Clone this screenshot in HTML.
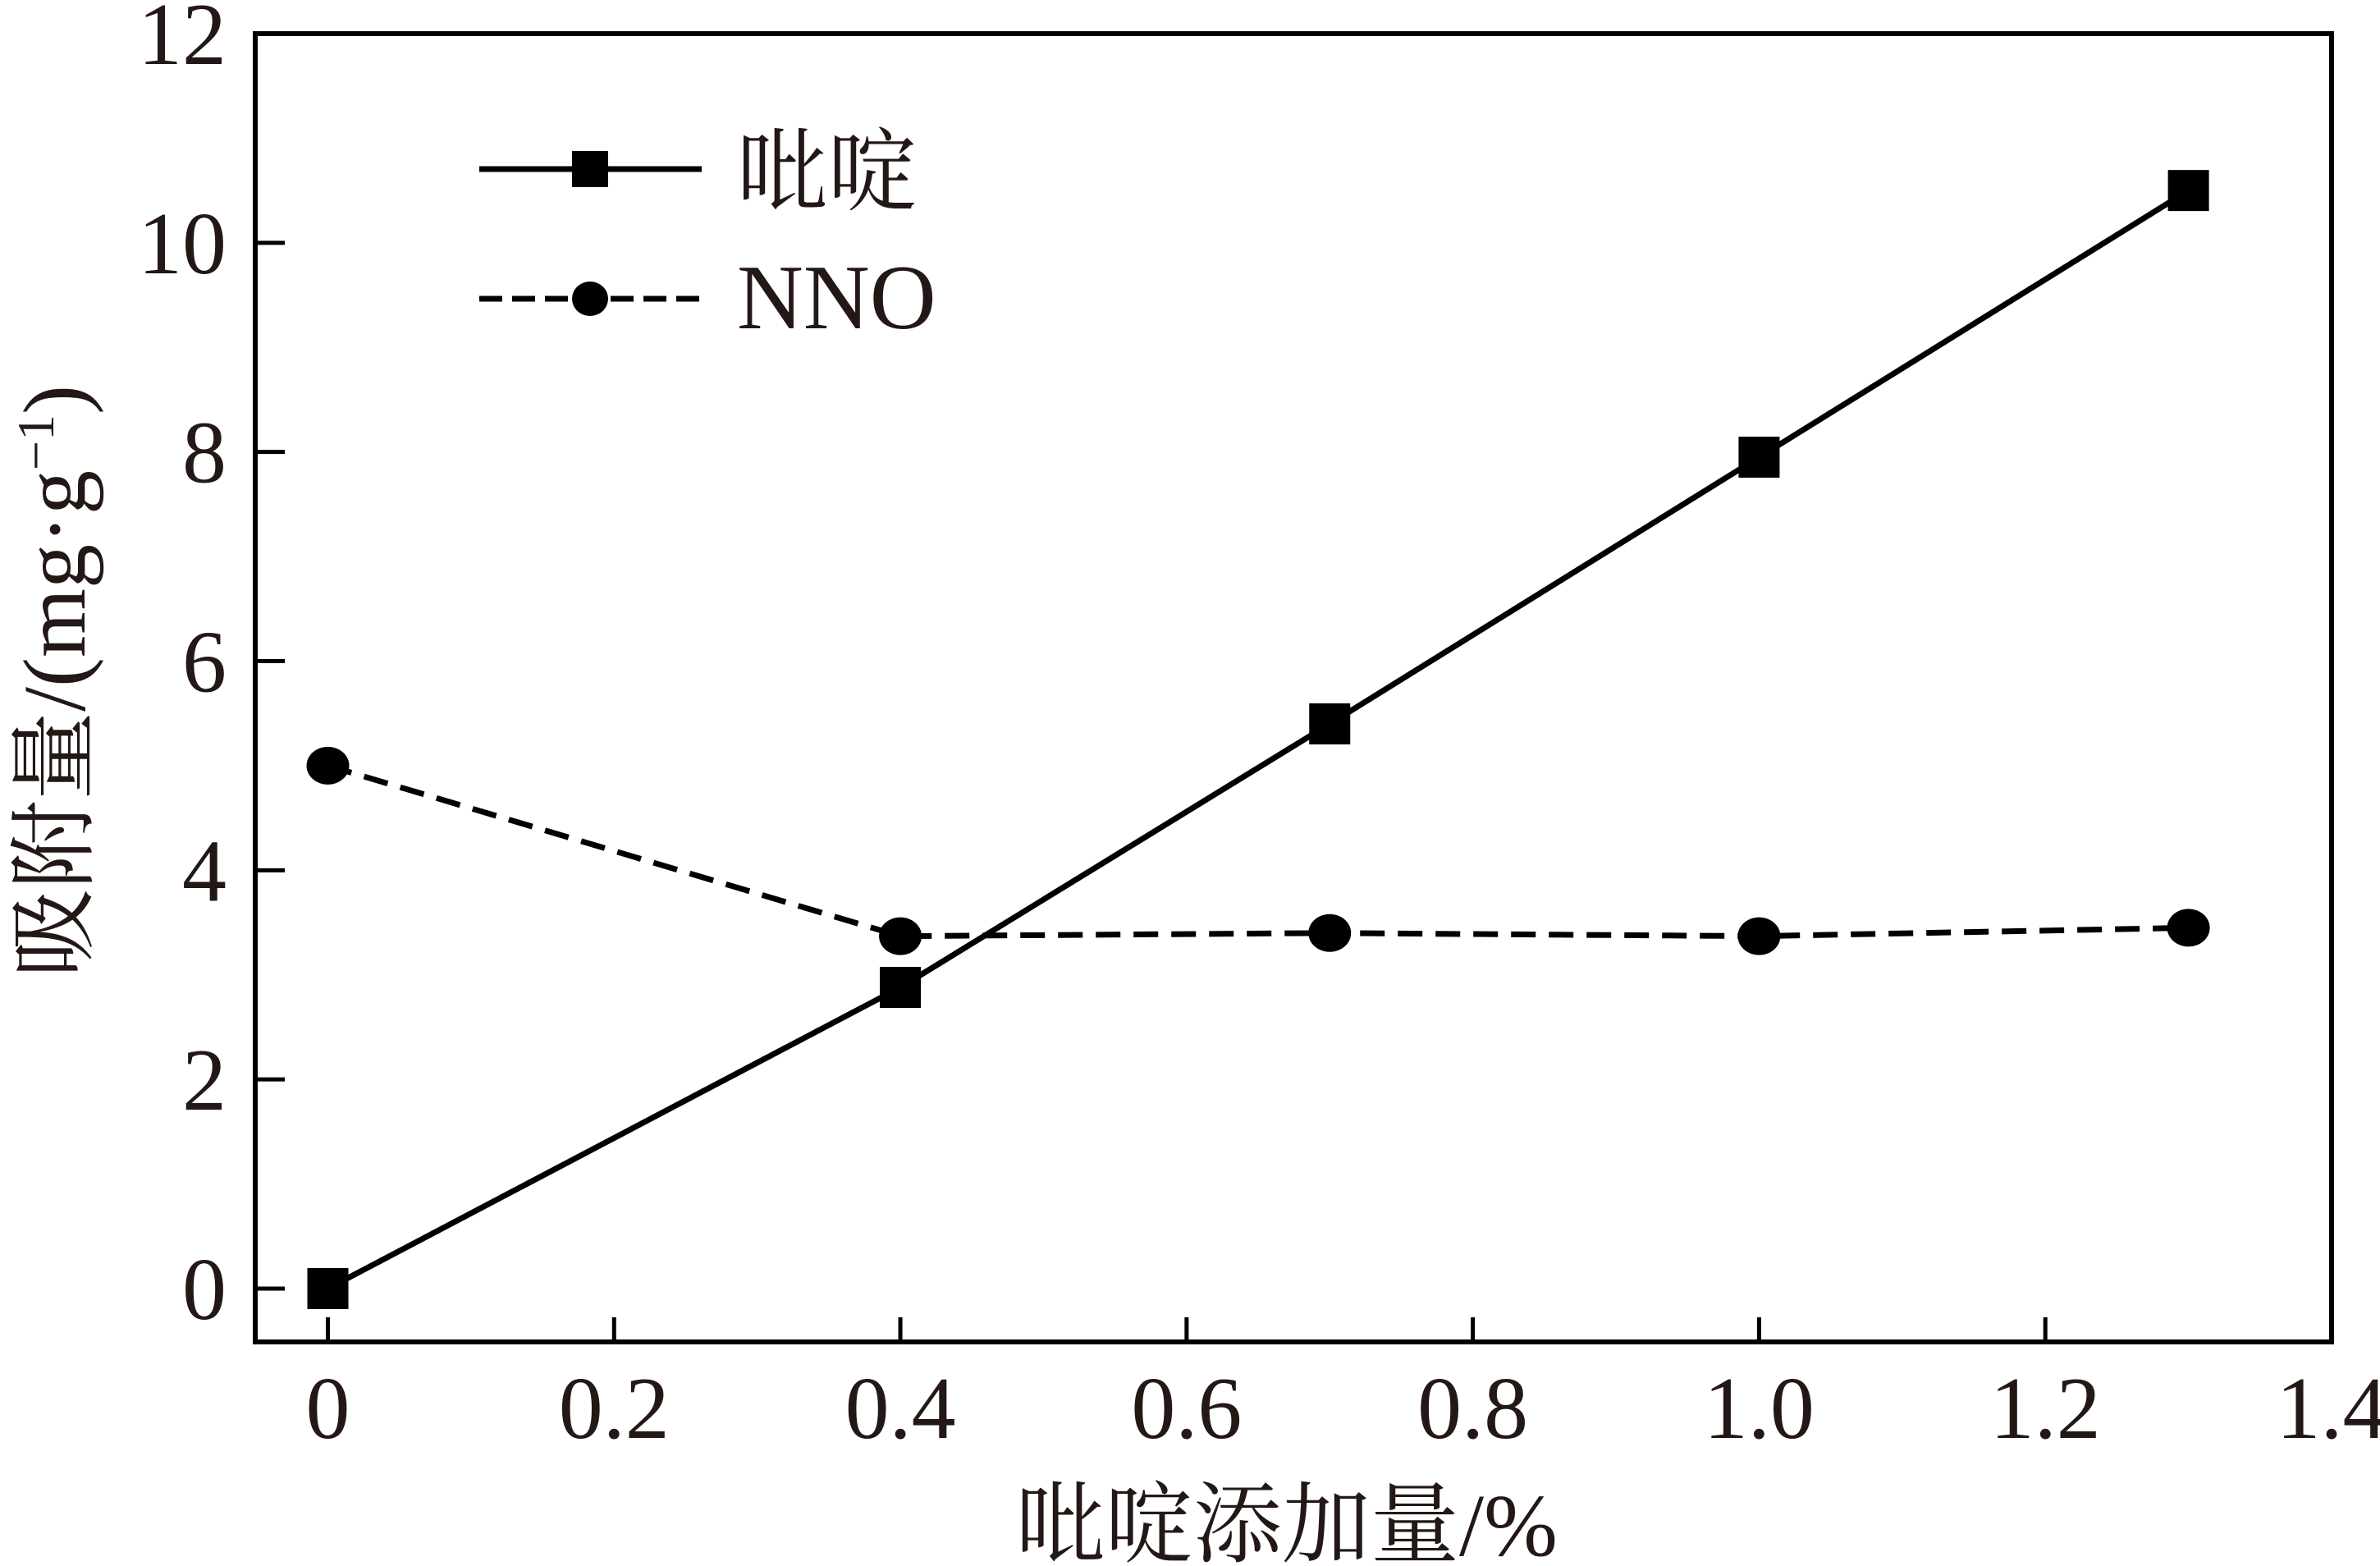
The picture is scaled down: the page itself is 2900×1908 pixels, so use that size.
<!DOCTYPE html>
<html><head><meta charset="utf-8"><style>
html,body{margin:0;padding:0;background:#fff;}
svg{display:block;}
text{font-family:"Liberation Serif","Noto Serif CJK SC",serif;fill:#231815;}
</style></head><body>
<svg id="chart" width="2900" height="1908" viewBox="0 0 2900 1908" xmlns="http://www.w3.org/2000/svg">
<g id="axes"></g>
<g id="series"></g>
<g id="legend"></g>
</svg>
<script>
const xCategories = [0, 0.4, 0.7, 1.0, 1.3];
const pyridineValues = [0, 2.88, 5.4, 7.95, 10.5];
const nnoValues = [5.0, 3.37, 3.4, 3.37, 3.45];
const xTicks = [0, 0.2, 0.4, 0.6, 0.8, 1.0, 1.2, 1.4];
const xTickLabels = ["0", "0.2", "0.4", "0.6", "0.8", "1.0", "1.2", "1.4"];
const yTicks = [0, 2, 4, 6, 8, 10, 12];
const yTickLabels = ["0", "2", "4", "6", "8", "10", "12"];

const NS = "http://www.w3.org/2000/svg";
const L = 311, R = 2841, T = 41, B = 1635;
const X0 = 399.5, XU = (2841 - 399.5) / 1.4;
const Y0 = 1570, YU = (1570 - 41) / 12;
function sx(v){ return X0 + v * XU; }
function sy(v){ return Y0 - v * YU; }
function mk(tag, attrs, parent){
  const e = document.createElementNS(NS, tag);
  for (const k in attrs) e.setAttribute(k, attrs[k]);
  parent.appendChild(e);
  return e;
}
const axes = document.getElementById('axes');
const series = document.getElementById('series');
const legend = document.getElementById('legend');

let frame = mk('rect', {x:L, y:T, width:R-L, height:B-T, fill:'none', stroke:'#000', 'stroke-width':6}, axes);



xTicks.forEach((v, i) => {
  const x = sx(v);
  if (v < 1.4) {
    let t = mk('line', {x1:x, y1:B, x2:x, y2:B-30, stroke:'#000', 'stroke-width':5}, axes);
    
    
  }
  let lb = mk('text', {x:x, y:1752, 'font-size':108, 'text-anchor':'middle'}, axes);
  lb.textContent = xTickLabels[i];
  
  
});
yTicks.forEach((v, i) => {
  const y = sy(v);
  if (v < 12) {
    let t = mk('line', {x1:L, y1:y, x2:L+36, y2:y, stroke:'#000', 'stroke-width':5}, axes);
    
    
  }
  let lb = mk('text', {x:276, y:y+37, 'font-size':108, 'text-anchor':'end'}, axes);
  lb.textContent = yTickLabels[i];
  
  
});

let xt = mk('text', {x:1568, y:1895, 'font-size':108, 'text-anchor':'middle'}, axes);
xt.textContent = '吡啶添加量/%';



let yt = mk('text', {x:0, y:0, 'font-size':108, 'text-anchor':'middle', transform:'translate(103,830) rotate(-90)'}, axes);
yt.innerHTML = '吸附量/(mg·g<tspan dy="-38" font-size="64">−1</tspan><tspan dy="38">)</tspan>';



// series
const pyPts = xCategories.map((c, i) => sx(c) + ',' + sy(pyridineValues[i])).join(' ');
let pyLine = mk('polyline', {points:pyPts, fill:'none', stroke:'#000', 'stroke-width':7}, series);


const nnoPts = xCategories.map((c, i) => sx(c) + ',' + sy(nnoValues[i])).join(' ');
let nnoLine = mk('polyline', {points:nnoPts, fill:'none', stroke:'#000', 'stroke-width':7, 'stroke-dasharray':'30 16'}, series);


xCategories.forEach((c, i) => {
  let s = mk('rect', {x:sx(c)-25, y:sy(pyridineValues[i])-25, width:50, height:50, fill:'#000'}, series);
  
  
  let p = mk('ellipse', {cx:sx(c), cy:sy(nnoValues[i]), rx:26, ry:23, fill:'#000'}, series);
  
  
});

// legend
let l1 = mk('line', {x1:584, y1:206, x2:855, y2:206, stroke:'#000', 'stroke-width':7}, legend);


let m1 = mk('rect', {x:697, y:184, width:44, height:44, fill:'#000'}, legend);


let t1 = mk('text', {x:898, y:248, 'font-size':110}, legend);
t1.textContent = '吡啶';


let l2 = mk('line', {x1:584, y1:364, x2:855, y2:364, stroke:'#000', 'stroke-width':7, 'stroke-dasharray':'28 12'}, legend);


let m2 = mk('ellipse', {cx:719, cy:364, rx:22, ry:21, fill:'#000'}, legend);


let t2 = mk('text', {x:898, y:400, 'font-size':112}, legend);
t2.textContent = 'NNO';


</script>
</body></html>
